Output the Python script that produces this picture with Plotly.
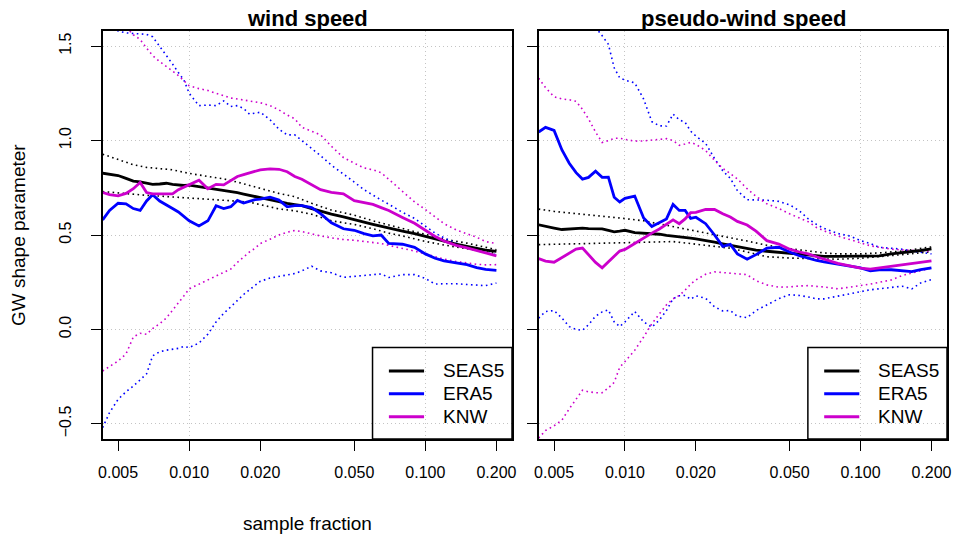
import plotly.graph_objects as go

# ---------------- data ----------------
FRAC = [0.0043, 0.0046, 0.005, 0.0054, 0.0058, 0.0062, 0.0066, 0.007, 0.0075, 0.008,
        0.0085, 0.009, 0.0095, 0.010, 0.011, 0.012, 0.013, 0.014, 0.015, 0.016,
        0.017, 0.018, 0.019, 0.020, 0.022, 0.024, 0.026, 0.028, 0.030, 0.033,
        0.036, 0.040, 0.045, 0.050, 0.055, 0.060, 0.065, 0.070, 0.080, 0.090,
        0.100, 0.110, 0.120, 0.135, 0.150, 0.165, 0.180, 0.200]

# left panel: wind speed
WS_SEAS5 = [0.827, 0.822, 0.815, 0.80, 0.785, 0.781, 0.775, 0.768, 0.770, 0.774,
            0.768, 0.763, 0.762, 0.764, 0.756, 0.748, 0.744, 0.738, 0.73, 0.724,
            0.717, 0.710, 0.703, 0.696, 0.684, 0.674, 0.667, 0.661, 0.655, 0.64,
            0.625, 0.61, 0.596, 0.583, 0.568, 0.556, 0.545, 0.536, 0.52, 0.507,
            0.493, 0.478, 0.465, 0.452, 0.44, 0.429, 0.42, 0.413]
WS_ERA5 = [0.58, 0.63, 0.668, 0.665, 0.64, 0.63, 0.68, 0.713, 0.68, 0.657,
           0.64, 0.622, 0.598, 0.575, 0.548, 0.575, 0.655, 0.64, 0.65, 0.683,
           0.669, 0.68, 0.687, 0.69, 0.70, 0.685, 0.649, 0.655, 0.655, 0.645,
           0.613, 0.565, 0.533, 0.525, 0.507, 0.495, 0.50, 0.455, 0.451, 0.435,
           0.40, 0.377, 0.363, 0.352, 0.343, 0.327, 0.318, 0.313]
WS_KNW = [0.725, 0.714, 0.707, 0.72, 0.745, 0.778, 0.725, 0.718, 0.718, 0.718,
          0.718, 0.74, 0.753, 0.766, 0.79, 0.745, 0.768, 0.765, 0.788, 0.81,
          0.82, 0.828, 0.835, 0.845, 0.85, 0.848, 0.835, 0.81, 0.795, 0.765,
          0.74, 0.726, 0.718, 0.682, 0.672, 0.662, 0.645, 0.63, 0.593, 0.562,
          0.525, 0.492, 0.468, 0.445, 0.432, 0.418, 0.405, 0.39]
WS_ERA5_HI = [1.75, 1.64, 1.58, 1.57, 1.567, 1.565, 1.562, 1.55, 1.50, 1.45,
              1.405, 1.36, 1.32, 1.25, 1.185, 1.188, 1.185, 1.21, 1.18, 1.185,
              1.17, 1.14, 1.145, 1.15, 1.11, 1.06, 1.03, 1.03, 1.0, 0.96,
              0.92, 0.87, 0.82, 0.78, 0.74, 0.71, 0.685, 0.663, 0.62, 0.588,
              0.545, 0.51, 0.485, 0.455, 0.432, 0.418, 0.406, 0.396]
WS_ERA5_LO = [-0.52, -0.44, -0.37, -0.33, -0.30, -0.265, -0.235, -0.14, -0.118, -0.11,
              -0.105, -0.1, -0.09, -0.096, -0.072, -0.025, 0.04, 0.085, 0.12, 0.155,
              0.185, 0.21, 0.235, 0.255, 0.272, 0.28, 0.29, 0.296, 0.31, 0.335,
              0.31, 0.30, 0.276, 0.28, 0.284, 0.29, 0.294, 0.275, 0.29, 0.29,
              0.27, 0.24, 0.242, 0.242, 0.238, 0.233, 0.232, 0.246]
WS_KNW_HI = [1.80, 1.72, 1.65, 1.6, 1.56, 1.535, 1.49, 1.45, 1.418, 1.39,
             1.368, 1.344, 1.318, 1.29, 1.275, 1.265, 1.25, 1.235, 1.225, 1.22,
             1.215, 1.21, 1.207, 1.20, 1.185, 1.162, 1.135, 1.115, 1.07, 1.05,
             1.03, 0.97, 0.91, 0.88, 0.855, 0.845, 0.83, 0.795, 0.73, 0.675,
             0.635, 0.595, 0.56, 0.527, 0.508, 0.488, 0.465, 0.455]
WS_KNW_LO = [-0.22, -0.195, -0.167, -0.13, -0.04, -0.02, -0.026, 0.005, 0.03, 0.06,
             0.1, 0.14, 0.178, 0.215, 0.24, 0.26, 0.28, 0.30, 0.32, 0.355,
             0.385, 0.41, 0.43, 0.455, 0.478, 0.50, 0.515, 0.524, 0.518, 0.504,
             0.495, 0.485, 0.476, 0.472, 0.465, 0.46, 0.455, 0.445, 0.43, 0.415,
             0.40, 0.385, 0.372, 0.36, 0.35, 0.345, 0.342, 0.343]

FRAC_WS_CI = [0.0043, 0.005, 0.0058, 0.0066, 0.0075, 0.0085, 0.010, 0.012, 0.014, 0.016,
              0.018, 0.020, 0.024, 0.028, 0.033, 0.040, 0.050, 0.060, 0.070, 0.080,
              0.100, 0.120, 0.150, 0.180, 0.200]
WS_SEAS5_HI = [0.928, 0.898, 0.872, 0.858, 0.852, 0.845, 0.826, 0.811, 0.797, 0.78,
               0.762, 0.745, 0.72, 0.703, 0.668, 0.632, 0.605, 0.575, 0.553, 0.535,
               0.50, 0.478, 0.457, 0.433, 0.422]
WS_SEAS5_LO = [0.73, 0.722, 0.716, 0.71, 0.706, 0.702, 0.695, 0.69, 0.685, 0.679,
               0.674, 0.662, 0.638, 0.628, 0.610, 0.575, 0.556, 0.533, 0.51, 0.495,
               0.466, 0.447, 0.428, 0.412, 0.402]

# right panel: pseudo-wind speed
PW_SEAS5 = [0.554, 0.545, 0.537, 0.529, 0.532, 0.537, 0.536, 0.534, 0.533, 0.532,
            0.524, 0.517, 0.520, 0.525, 0.512, 0.51, 0.508, 0.504, 0.498, 0.495,
            0.492, 0.49, 0.484, 0.48, 0.472, 0.462, 0.453, 0.445, 0.438, 0.428,
            0.42, 0.414, 0.408, 0.402, 0.397, 0.392, 0.388, 0.387, 0.387, 0.387,
            0.387, 0.388, 0.39, 0.40, 0.407, 0.41, 0.418, 0.427]
PW_ERA5 = [1.045, 1.07, 1.054, 0.95, 0.88, 0.83, 0.796, 0.805, 0.838, 0.805,
           0.806, 0.70, 0.675, 0.694, 0.706, 0.59, 0.545, 0.565, 0.585, 0.662,
           0.63, 0.63, 0.588, 0.594, 0.56, 0.50, 0.44, 0.45, 0.40, 0.372,
           0.396, 0.43, 0.435, 0.41, 0.39, 0.378, 0.365, 0.358, 0.345, 0.333,
           0.326, 0.31, 0.315, 0.316, 0.312, 0.306, 0.317, 0.326]
PW_KNW = [0.375, 0.362, 0.356, 0.38, 0.40, 0.425, 0.431, 0.395, 0.355, 0.326,
          0.36, 0.388, 0.415, 0.424, 0.455, 0.485, 0.51, 0.532, 0.555, 0.58,
          0.56, 0.585, 0.618, 0.62, 0.635, 0.635, 0.612, 0.595, 0.572, 0.553,
          0.52, 0.47, 0.452, 0.425, 0.41, 0.40, 0.385, 0.372, 0.35, 0.337,
          0.325, 0.319, 0.325, 0.335, 0.343, 0.348, 0.353, 0.363]
PW_ERA5_HI = [2.0, 1.95, 1.9, 1.85, 1.8, 1.76, 1.72, 1.68, 1.6, 1.555,
              1.51, 1.385, 1.332, 1.32, 1.305, 1.22, 1.10, 1.078, 1.077, 1.14,
              1.11, 1.096, 1.05, 1.024, 0.985, 0.905, 0.84, 0.80, 0.735, 0.687,
              0.686, 0.684, 0.678, 0.66, 0.628, 0.585, 0.556, 0.535, 0.508, 0.495,
              0.47, 0.455, 0.435, 0.428, 0.425, 0.415, 0.41, 0.40]
PW_ERA5_LO = [0.06, 0.095, 0.10, 0.06, 0.015, 0.0, -0.005, 0.025, 0.07, 0.093,
              0.103, 0.04, 0.015, 0.04, 0.095, 0.04, 0.012, 0.05, 0.10, 0.163,
              0.178, 0.18, 0.16, 0.178, 0.165, 0.12, 0.098, 0.10, 0.07, 0.062,
              0.10, 0.13, 0.163, 0.184, 0.18, 0.172, 0.162, 0.162, 0.177, 0.19,
              0.20, 0.21, 0.215, 0.222, 0.229, 0.215, 0.246, 0.264]
PW_KNW_HI = [1.33, 1.28, 1.232, 1.22, 1.216, 1.208, 1.165, 1.115, 1.045, 0.99,
             1.0, 1.012, 1.012, 1.008, 0.997, 0.998, 1.003, 1.006, 1.01, 1.0,
             0.975, 0.982, 0.99, 0.98, 0.947, 0.895, 0.853, 0.825, 0.797, 0.745,
             0.705, 0.665, 0.64, 0.612, 0.588, 0.57, 0.54, 0.522, 0.495, 0.475,
             0.46, 0.443, 0.435, 0.425, 0.421, 0.418, 0.416, 0.414]
PW_KNW_LO = [-0.575, -0.535, -0.51, -0.48, -0.42, -0.37, -0.322, -0.33, -0.335, -0.335,
             -0.31, -0.28, -0.20, -0.17, -0.11, -0.04, 0.03, 0.083, 0.13, 0.162,
             0.18, 0.208, 0.24, 0.262, 0.292, 0.305, 0.302, 0.298, 0.293, 0.29,
             0.258, 0.236, 0.224, 0.225, 0.23, 0.232, 0.228, 0.225, 0.215, 0.226,
             0.232, 0.24, 0.248, 0.262, 0.285, 0.298, 0.308, 0.326]

FRAC_PW_CI = [0.0043, 0.005, 0.006, 0.007, 0.008, 0.009, 0.010, 0.012, 0.014, 0.016,
              0.018, 0.020, 0.024, 0.028, 0.033, 0.040, 0.050, 0.060, 0.070, 0.080,
              0.100, 0.120, 0.150, 0.200]
PW_SEAS5_HI = [0.637, 0.625, 0.615, 0.607, 0.598, 0.592, 0.587, 0.575, 0.558, 0.545,
               0.53, 0.52, 0.50, 0.485, 0.468, 0.446, 0.428, 0.414, 0.405, 0.40,
               0.40, 0.405, 0.415, 0.437]
PW_SEAS5_LO = [0.449, 0.451, 0.454, 0.456, 0.458, 0.458, 0.46, 0.463, 0.466, 0.465,
               0.458, 0.452, 0.44, 0.43, 0.41, 0.385, 0.378, 0.377, 0.373, 0.372,
               0.377, 0.385, 0.396, 0.412]

NAMES = ["SEAS5", "ERA5", "KNW"]
COLORS = ["#000000", "#0000FF", "#CC00CC"]
PANEL_TITLES = ["wind speed", "pseudo-wind speed"]
X_TICKS = [0.005, 0.01, 0.02, 0.05, 0.1, 0.2]
X_TICKTEXT = ["0.005", "0.010", "0.020", "0.050", "0.100", "0.200"]
Y_TICKS = [-0.5, 0.0, 0.5, 1.0, 1.5]
Y_TICKTEXT = ["\u22120.5", "0.0", "0.5", "1.0", "1.5"]

for arr in [WS_SEAS5, WS_ERA5, WS_KNW, WS_ERA5_HI, WS_ERA5_LO, WS_KNW_HI, WS_KNW_LO,
            PW_SEAS5, PW_ERA5, PW_KNW, PW_ERA5_HI, PW_ERA5_LO, PW_KNW_HI, PW_KNW_LO]:
    assert len(arr) == len(FRAC)
assert len(WS_SEAS5_HI) == len(WS_SEAS5_LO) == len(FRAC_WS_CI)
assert len(PW_SEAS5_HI) == len(PW_SEAS5_LO) == len(FRAC_PW_CI)

panels = [
    dict(est=[WS_SEAS5, WS_ERA5, WS_KNW],
         ci=[(FRAC_WS_CI, WS_SEAS5_HI, WS_SEAS5_LO), (FRAC, WS_ERA5_HI, WS_ERA5_LO),
             (FRAC, WS_KNW_HI, WS_KNW_LO)]),
    dict(est=[PW_SEAS5, PW_ERA5, PW_KNW],
         ci=[(FRAC_PW_CI, PW_SEAS5_HI, PW_SEAS5_LO), (FRAC, PW_ERA5_HI, PW_ERA5_LO),
             (FRAC, PW_KNW_HI, PW_KNW_LO)]),
]

FONT = "Liberation Sans, Arial, Helvetica, sans-serif"
fig = go.Figure()

for p, panel in enumerate(panels):
    xa = "x" if p == 0 else "x2"
    ya = "y" if p == 0 else "y2"
    for k in range(3):
        fx, hi, lo = panel["ci"][k]
        for band in (hi, lo):
            fig.add_trace(go.Scatter(x=fx, y=band, xaxis=xa, yaxis=ya, mode="lines",
                                     line=dict(color=COLORS[k], width=1.6, dash="1.6px,3.4px"),
                                     showlegend=False, hoverinfo="skip"))
    for k in range(3):
        fig.add_trace(go.Scatter(x=FRAC, y=panel["est"][k], xaxis=xa, yaxis=ya, mode="lines",
                                 line=dict(color=COLORS[k], width=2.8), name=NAMES[k],
                                 showlegend=False))

W, H = 957, 542
PLOT_L, PLOT_T, PLOT_W, PLOT_H = 103, 31, 844, 408
L, T = PLOT_L, PLOT_T
R = W - L - PLOT_W
B = H - T - PLOT_H
dom_left = [0, (512 - 103) / PLOT_W]
dom_right = [(539 - 103) / PLOT_W, 1]

axis_common = dict(showline=True, linecolor="black", linewidth=1.5, mirror=True,
                   ticks="outside", ticklen=10, tickwidth=1.3, tickcolor="black",
                   zeroline=False, ticklabeloverflow="allow",
                   tickfont=dict(family=FONT, size=16, color="black"))
grid = dict(gridcolor="#c4c4c4", griddash="1px,3px", gridwidth=1)

xcommon = dict(type="log", range=[-2.365, -0.633], tickmode="array", tickvals=X_TICKS,
               ticktext=X_TICKTEXT, showgrid=False, ticklabelstandoff=8,
               minor=dict(tickmode="array", tickvals=[0.01, 0.1], showgrid=True, ticks="", **grid),
               **axis_common)
ycommon = dict(range=[-0.58, 1.58], tickmode="array", tickvals=Y_TICKS, ticktext=Y_TICKTEXT,
               showgrid=True, **grid, **axis_common)

fig.update_layout(
    width=W, height=H, margin=dict(l=L, r=R, t=T, b=B, autoexpand=False),
    paper_bgcolor="white", plot_bgcolor="white", showlegend=False,
    font=dict(family=FONT, color="black"),
    xaxis=dict(domain=dom_left, anchor="y", **xcommon),
    yaxis=dict(domain=[0, 1], anchor="x", tickangle=-90, ticklabelstandoff=14, **ycommon),
    xaxis2=dict(domain=dom_right, anchor="y2", **xcommon),
    yaxis2=dict(domain=[0, 1], anchor="x2", showticklabels=False, **ycommon),
)

shapes, annotations = [], []
for p, title in enumerate(PANEL_TITLES):
    xd = "x domain" if p == 0 else "x2 domain"
    yd = "y domain" if p == 0 else "y2 domain"
    annotations.append(dict(text="<b>%s</b>" % title, xref=xd, yref="paper", x=0.5, y=1,
                            xanchor="center", yanchor="bottom", yshift=-2, showarrow=False,
                            font=dict(family=FONT, size=22, color="black")))
    # legend box
    shapes.append(dict(type="rect", xref=xd, yref=yd, x0=0.659, x1=1.0, y0=0.0, y1=0.224,
                       line=dict(color="black", width=1.5), fillcolor="rgba(0,0,0,0)",
                       layer="above"))
    for k, name in enumerate(NAMES):
        yy = 0.1667 - k * 0.056
        shapes.append(dict(type="line", xref=xd, yref=yd, x0=0.699, x1=0.785, y0=yy, y1=yy,
                           line=dict(color=COLORS[k], width=3), layer="above"))
        annotations.append(dict(text=name, xref=xd, yref=yd, x=0.826, y=yy, xanchor="left",
                                yanchor="middle", showarrow=False,
                                font=dict(family=FONT, size=19, color="black")))

annotations.append(dict(text="GW shape parameter", xref="paper", yref="paper",
                        x=(18 - 103) / PLOT_W, y=0.5, textangle=-90, xanchor="center",
                        yanchor="middle", showarrow=False,
                        font=dict(family=FONT, size=19, color="black")))
annotations.append(dict(text="sample fraction", xref="x domain", yref="paper",
                        x=0.5, y=(439 - 523) / PLOT_H, xanchor="center",
                        yanchor="middle", showarrow=False,
                        font=dict(family=FONT, size=19, color="black")))

fig.update_layout(shapes=shapes, annotations=annotations)
# remove the browser's default 8px page margin so the figure sits at the window origin
fig.write_html("out.html", config={"displayModeBar": False},
               post_script="document.body.style.margin='0px';")
